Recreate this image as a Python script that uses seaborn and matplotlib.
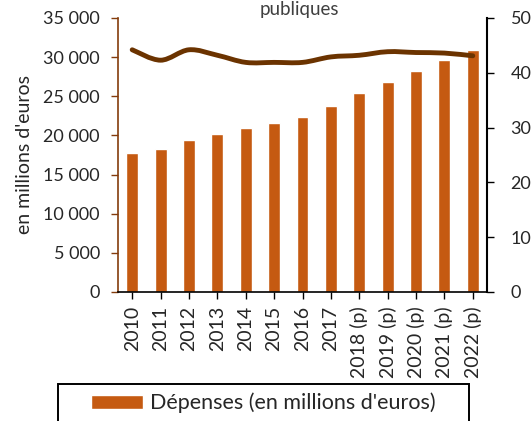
import matplotlib
matplotlib.use("Agg")
import matplotlib.pyplot as plt
from matplotlib.patches import Rectangle, PathPatch
from matplotlib.path import Path
import seaborn as sns
import numpy as np
import pandas as pd

categories = ["2010", "2011", "2012", "2013", "2014", "2015", "2016", "2017",
              "2018 (p)", "2019 (p)", "2020 (p)", "2021 (p)", "2022 (p)"]
depenses = [17800, 18300, 19400, 20200, 20900, 21600, 22350, 23750,
            25400, 26800, 28200, 29600, 30900]
part = [44.2, 42.3, 44.2, 43.2, 41.9, 41.9, 41.9, 42.9, 43.2, 43.85, 43.7, 43.6, 43.1]
left_ticks = [0, 5000, 10000, 15000, 20000, 25000, 30000, 35000]
left_labels = ["0", "5 000", "10 000", "15 000", "20 000", "25 000", "30 000", "35 000"]
right_ticks = [0, 10, 20, 30, 40, 50]

sns.set_style("white")
plt.rcParams['font.family'] = ['Lato', 'DejaVu Sans']

df = pd.DataFrame({"annee": categories, "depenses": depenses, "part": part})

fig = plt.figure(figsize=(5.32, 4.21), dpi=100)
ax = fig.add_axes([118/532, 1-292/421, (487-118)/532, (292-18)/421])

bar_color = "#C55A11"
line_color = "#6B3300"
spine_color = "#843C0C"

sns.barplot(data=df, x="annee", y="depenses", color=bar_color, width=0.42,
            saturation=1, ax=ax, label="Dépenses (en millions d'euros)")
if ax.get_legend() is not None:
    ax.get_legend().remove()
ax.set_ylim(0, 35000)
ax.set_xlim(-0.5, 12.5)
ax.set_yticks(left_ticks)
ax.set_yticklabels(left_labels)
ax.set_xlabel("")
ax.set_ylabel("en millions d'euros", fontsize=14, labelpad=7)
ax.tick_params(axis='y', labelsize=13, length=5, width=1, color=spine_color,
               direction='out', left=True, pad=8)
ax.tick_params(axis='x', labelsize=14, length=5, width=1, color='black',
               direction='out', bottom=True, rotation=90, pad=5)
for s in ["top", "right"]:
    ax.spines[s].set_visible(False)
ax.spines["left"].set_color(spine_color)
ax.spines["left"].set_linewidth(1.2)
ax.spines["bottom"].set_color("black")
ax.spines["bottom"].set_linewidth(1.2)

ax2 = ax.twinx()
sns.lineplot(data=df, x="annee", y="part", color=line_color, linewidth=3.5,
             ax=ax2, sort=False)
# render the seaborn line as a smoothed curve (Excel-like smoothing)
ln = ax2.lines[0]
xs = np.asarray(ln.get_xdata(), dtype=float)
ys = np.asarray(ln.get_ydata(), dtype=float)
pts = np.column_stack([xs, ys])
verts = [pts[0]]
codes = [Path.MOVETO]
n = len(pts)
for i in range(n - 1):
    p0 = pts[i - 1] if i > 0 else pts[i]
    p1 = pts[i]
    p2 = pts[i + 1]
    p3 = pts[i + 2] if i + 2 < n else pts[i + 1]
    c1 = p1 + (p2 - p0) / 6.0
    c2 = p2 - (p3 - p1) / 6.0
    verts += [c1, c2, p2]
    codes += [Path.CURVE4] * 3
patch = PathPatch(Path(verts, codes), facecolor="none", edgecolor=line_color,
                  linewidth=3.5, capstyle="round", joinstyle="round",
                  transform=ax2.transData)
ax2.add_patch(patch)
ln.set_visible(False)

ax2.set_ylim(0, 50)
ax2.set_xlim(-0.5, 12.5)
ax2.set_yticks(right_ticks)
ax2.set_ylabel("")
ax2.set_xlabel("")
ax2.tick_params(axis='y', labelsize=13, length=5, width=1, color='black',
                direction='out', right=True, pad=12)
for s in ["top", "left", "bottom"]:
    ax2.spines[s].set_visible(False)
ax2.spines["right"].set_color("black")
ax2.spines["right"].set_linewidth(1.5)

fig.text(299/532, 1-1/421, "publiques", ha="center", va="top", fontsize=13.5, color="#404040")

# legend frame (extends below the figure edge, as in the reference)
fig.patches.append(Rectangle((58/532, -0.1), (469-58)/532, (1-384/421)+0.1,
                             transform=fig.transFigure, fill=False,
                             edgecolor="black", linewidth=1.4, zorder=5))
handles, labels = ax.get_legend_handles_labels()
leg = fig.legend(handles, labels, loc="center left", bbox_to_anchor=(91/532, 1-403/421),
                 fontsize=15.5, frameon=False, handlelength=2.4, handleheight=0.6,
                 handletextpad=0.33, borderpad=0, borderaxespad=0)

fig.savefig("out.png", dpi=100)
